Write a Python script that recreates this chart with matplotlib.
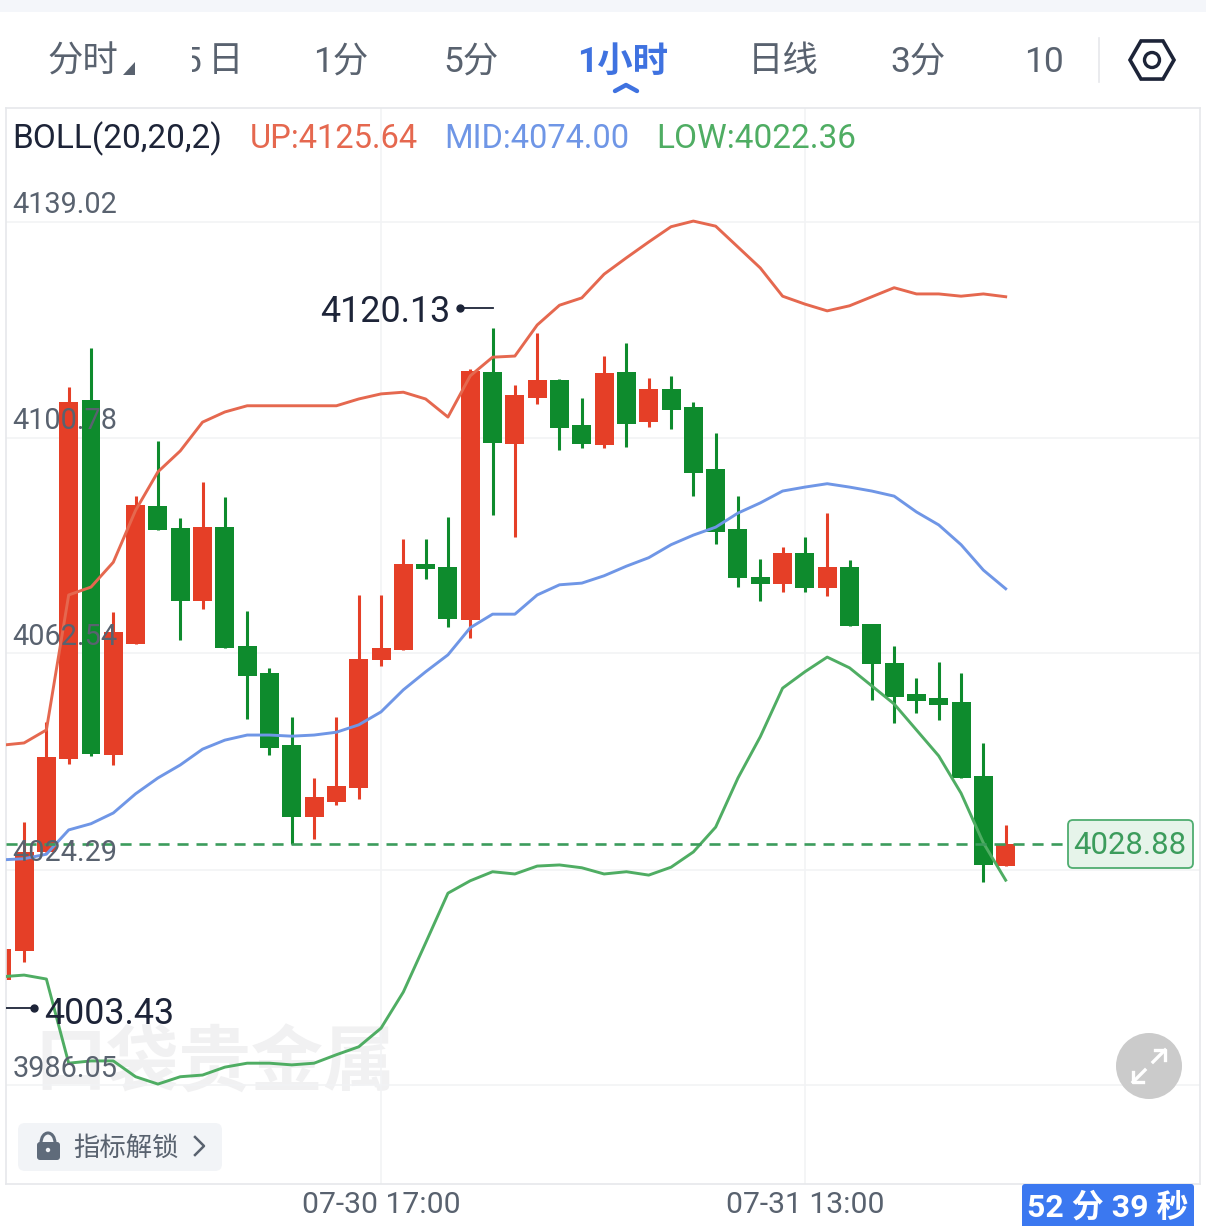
import matplotlib
matplotlib.use('Agg')
import matplotlib.pyplot as plt
import numpy as np
from matplotlib.patches import Rectangle, FancyBboxPatch, RegularPolygon, Circle, Polygon, Arc

plt.rcParams['font.family'] = ['Roboto', 'Noto Sans CJK SC', 'DejaVu Sans']

# 蜡烛数据
opens = [4004.73, 4009.87, 4027.39, 4043.86, 4107.42, 4044.57, 4064.22, 4088.65, 4084.76, 4071.83,
         4084.93, 4063.87, 4059.09, 4046.34, 4033.59, 4036.25, 4038.72, 4061.39, 4063.16, 4078.38,
         4077.85, 4068.47, 4112.38, 4099.63, 4107.77, 4110.96, 4102.99, 4099.45, 4112.38, 4103.52,
         4109.37, 4106.18, 4095.20, 4084.58, 4076.08, 4074.84, 4080.33, 4074.13, 4077.85, 4067.76,
         4060.86, 4055.37, 4054.66, 4053.95, 4040.85, 4024.91]
closes = [4010.22, 4027.39, 4044.21, 4107.07, 4044.74, 4066.34, 4088.83, 4084.40, 4071.83, 4084.93,
          4063.51, 4058.55, 4045.81, 4033.59, 4037.13, 4039.08, 4061.56, 4063.51, 4078.38, 4077.50,
          4068.65, 4112.55, 4099.81, 4108.31, 4110.96, 4102.46, 4099.63, 4112.20, 4103.17, 4109.37,
          4105.65, 4094.50, 4084.05, 4075.91, 4074.84, 4080.33, 4074.13, 4077.85, 4067.41, 4060.68,
          4054.84, 4054.13, 4053.42, 4040.50, 4025.09, 4028.88]
highs = [4010.22, 4032.70, 4050.41, 4109.72, 4116.63, 4069.89, 4090.42, 4100.16, 4086.53, 4092.90,
         4090.25, 4070.06, 4059.97, 4051.30, 4040.50, 4051.30, 4072.90, 4072.90, 4082.81, 4082.81,
         4086.71, 4112.91, 4120.13, 4110.08, 4119.28, 4111.14, 4107.77, 4115.21, 4117.51, 4111.32,
         4111.67, 4107.07, 4101.58, 4090.42, 4079.27, 4081.39, 4083.16, 4087.41, 4079.09, 4067.76,
         4063.87, 4058.20, 4061.03, 4059.09, 4046.69, 4032.17]
lows = [4003.43, 4007.92, 4027.39, 4042.97, 4044.39, 4042.80, 4064.22, 4084.40, 4064.93, 4070.42,
        4063.51, 4050.94, 4044.57, 4028.81, 4029.70, 4035.71, 4036.78, 4060.32, 4063.16, 4075.73,
        4067.23, 4065.28, 4087.06, 4083.16, 4106.71, 4098.57, 4098.92, 4098.92, 4099.10, 4102.64,
        4102.29, 4090.42, 4081.92, 4074.31, 4071.83, 4073.43, 4073.43, 4072.72, 4067.41, 4054.30,
        4050.23, 4052.00, 4050.76, 4040.50, 4022.08, 4024.91]

# BOLL 三条线
boll_up = [4046.3, 4046.7, 4049.0, 4072.9, 4074.3, 4078.7, 4087.9, 4094.7, 4098.4, 4103.5,
           4105.3, 4106.4, 4106.4, 4106.4, 4106.4, 4106.4, 4107.6, 4108.5, 4108.8, 4107.6,
           4104.4, 4111.7, 4115.0, 4115.2, 4120.7, 4124.2, 4125.5, 4129.7, 4132.6, 4135.4,
           4138.1, 4139.1, 4138.2, 4134.5, 4130.8, 4125.8, 4124.4, 4123.2, 4124.1, 4125.7,
           4127.3, 4126.2, 4126.2, 4125.8, 4126.2, 4125.7]
boll_mid = [4026.0, 4026.2, 4027.0, 4031.3, 4032.4, 4034.3, 4037.7, 4040.5, 4042.8, 4045.6,
            4047.2, 4048.1, 4048.1, 4047.9, 4048.1, 4048.6, 4049.9, 4052.2, 4056.1, 4059.3,
            4062.3, 4067.1, 4069.5, 4069.5, 4072.9, 4074.7, 4075.0, 4076.3, 4078.0, 4079.5,
            4081.8, 4083.5, 4084.9, 4087.4, 4089.2, 4091.3, 4092.0, 4092.6, 4092.0, 4091.3,
            4090.4, 4087.6, 4085.3, 4081.8, 4077.3, 4074.0]
boll_low = [4005.3, 4005.6, 4004.9, 3990.0, 3990.4, 3990.4, 3987.6, 3986.3, 3987.6, 3987.9,
            3989.3, 3990.0, 3990.0, 3989.7, 3990.0, 3991.5, 3992.9, 3996.2, 4002.6, 4011.3,
            4020.1, 4022.3, 4023.9, 4023.5, 4024.9, 4025.1, 4024.6, 4023.5, 4023.9, 4023.3,
            4024.7, 4027.4, 4031.8, 4040.5, 4047.8, 4056.4, 4059.3, 4061.9, 4060.0, 4056.8,
            4053.6, 4049.0, 4044.4, 4037.8, 4029.0, 4022.4]

y_ticks = [4139.02, 4100.78, 4062.54, 4024.29, 3986.05]
y_labels = ['4139.02', '4100.78', '4062.54', '4024.29', '3986.05']
x_ticks = [17, 36]
x_labels = ['07-30 17:00', '07-31 13:00']
last_price = 4028.88

tabs = [('分时', 47), ('5', 181), ('日', 208), ('1分', 313), ('5分', 443), ('日线', 748), ('3分', 890), ('10', 1024)]

RED = '#e53f27'
GREEN = '#0e8b2d'
C_UP = '#e5684f'
C_MID = '#6f96e6'
C_LOW = '#4fad63'
GREY = '#59626f'
DARK = '#1d2438'

fig = plt.figure(figsize=(12.06, 12.26), dpi=100)
W, H = 1206, 1226

# 主图，像素范围 x 6~1200, y 108~1184
ax = fig.add_axes([6 / W, 1 - 1184 / H, 1194 / W, 1076 / H])
ax.set_xlim(0.19, 53.71)
ax.set_ylim(3968.61, 4159.12)

# 界面层，用像素坐标
ui = fig.add_axes([0, 0, 1, 1], zorder=5)
ui.set_xlim(0, W)
ui.set_ylim(H, 0)
ui.axis('off')
ui.patch.set_alpha(0)

for s in ax.spines.values():
    s.set_color('#e6e8eb')
    s.set_linewidth(1.2)
ax.set_axisbelow(True)
ax.set_yticks(y_ticks)
ax.set_xticks(x_ticks)
ax.set_yticklabels([])
ax.set_xticklabels(x_labels, fontsize=21.7, color=GREY)
ax.tick_params(axis='both', length=0)
ax.tick_params(axis='x', pad=5)
ax.grid(True, color='#f2f3f5', linewidth=1.2)

ax.text(215, 1066, '口袋贵金属', transform=ui.transData, fontsize=52, fontweight='bold',
        color='#f1f1f2', ha='center', va='center', zorder=0.5, style='italic')

# 画蜡烛
idx = np.arange(len(opens))
o = np.array(opens)
c = np.array(closes)
colors = [RED if c[i] >= o[i] else GREEN for i in idx]
ax.vlines(idx, lows, highs, colors=colors, linewidth=2.2, zorder=2)
ax.bar(idx, np.abs(c - o), bottom=np.minimum(o, c), width=0.85, color=colors, zorder=2.5)

ax.plot(idx, boll_up, color=C_UP, lw=2.1, zorder=3)
ax.plot(idx, boll_mid, color=C_MID, lw=2.1, zorder=3)
ax.plot(idx, boll_low, color=C_LOW, lw=2.1, zorder=3)

# 现价虚线
ax.plot([0.19, 47.6], [last_price, last_price], color='#3c9c5c', lw=1.9,
        dashes=(4.2, 3.0), zorder=4)

# 最高最低标注
hi_i = int(np.argmax(highs))
hi_y = highs[hi_i] + 3.6
ax.plot([hi_i - 1.44, hi_i], [hi_y, hi_y], color=DARK, lw=1.3, zorder=4)
ax.plot([hi_i - 1.44], [hi_y], 'o', color=DARK, ms=5, zorder=4)
ax.text(hi_i - 1.9, hi_y - 0.65, '%.2f' % highs[hi_i], color=DARK, fontsize=25.8, ha='right',
        va='center', zorder=6)
lo_i = int(np.argmin(lows))
lo_y = lows[lo_i] - 3.6
ax.plot([lo_i, lo_i + 1.44], [lo_y, lo_y], color=DARK, lw=1.3, zorder=4)
ax.plot([lo_i + 1.44], [lo_y], 'o', color=DARK, ms=5, zorder=4)
ax.text(lo_i + 1.9, lo_y - 1.1, '%.2f' % lows[lo_i], color=DARK, fontsize=25.8, ha='left',
        va='center', zorder=6)

# y 轴标签写在图里
for t, lab in zip(y_ticks, y_labels):
    ax.annotate(lab, (0, t), xycoords=ax.get_yaxis_transform(), xytext=(4.5, 1.8),
                textcoords='offset points', fontsize=20.8, color=GREY, va='bottom', zorder=6)

# 顶部
ui.add_patch(Rectangle((0, 0), W, 12, color='#f4f6fa', lw=0))
for name, x in tabs:
    ui.text(x, 62, name, fontsize=25.5, color=GREY, ha='left', va='center')
# 5日 的 5 被滚动区挡住一半
ui.add_patch(Rectangle((140, 30), 52, 60, color='white', lw=0, zorder=3.5))
ui.text(577, 62, '1小时', fontsize=25.5, color='#3f72e0', fontweight='bold', ha='left', va='center')
ui.plot([615, 626, 637], [91, 85, 91], color='#3f72e0', lw=3.2, solid_capstyle='round')
ui.add_patch(Polygon([[123, 75], [135, 75], [135, 62]], color='#59626f', lw=0, zorder=4))
ui.plot([1099, 1099], [38, 82], color='#e6e8eb', lw=1.2)
ui.add_patch(RegularPolygon((1152, 60), 6, radius=22, orientation=np.pi / 6, fill=False,
                            ec=DARK, lw=2.6))
ui.add_patch(Circle((1152, 60), 7.5, fill=False, ec=DARK, lw=2.4))

# 图例
ui.text(12, 139, 'BOLL(20,20,2)', fontsize=24, color=DARK, va='center')
ui.text(250, 139, 'UP:4125.64', fontsize=23.5, color=C_UP, va='center')
ui.text(444, 139, 'MID:4074.00', fontsize=23.5, color=C_MID, va='center')
ui.text(656, 139, 'LOW:4022.36', fontsize=24, color=C_LOW, va='center')

# 现价框
ui.add_patch(FancyBboxPatch((1071, 823), 119, 42, boxstyle='round,pad=3,rounding_size=5',
                            fc='#e6f4ea', ec='#4fad70', lw=1.3))
ui.text(1130, 845, '%.2f' % last_price, fontsize=22.4, color='#3c9c5c', ha='center', va='center')

# 放大按钮
ui.add_patch(Circle((1149, 1066), 33, color='#cbcbcb', lw=0))
for x0, y0, x1, y1, ends in [(1153, 1062, 1165, 1050, [[1155, 1050], [1165, 1050], [1165, 1060]]),
                             (1145, 1070, 1133, 1082, [[1133, 1072], [1133, 1082], [1143, 1082]])]:
    ui.plot([x0, x1], [y0, y1], color='white', lw=2.4)
    e = np.array(ends)
    ui.plot(e[:, 0], e[:, 1], color='white', lw=2.4)

# 指标解锁按钮
ui.add_patch(FancyBboxPatch((24, 1129), 192, 36, boxstyle='round,pad=6,rounding_size=7',
                            fc='#f2f4f7', ec='none'))
ui.add_patch(FancyBboxPatch((39, 1144), 19, 14, boxstyle='round,pad=2,rounding_size=3',
                            fc='#5f6b7a', ec='none'))
ui.add_patch(Arc((48, 1143), 14, 20, theta1=180, theta2=360, color='#5f6b7a', lw=2.2))
ui.add_patch(Circle((48, 1150), 2.2, color='#f2f4f7', lw=0))
ui.text(73, 1149, '指标解锁', fontsize=19, color=GREY, va='center')
ui.plot([195, 204, 195], [1137, 1146, 1155], color=GREY, lw=1.8)

# 倒计时
ui.add_patch(FancyBboxPatch((1024, 1186), 168, 60, boxstyle='round,pad=2,rounding_size=3',
                            fc='#3b78f0', ec='none'))
ui.text(1108, 1207, '52 分 39 秒', fontsize=23, color='white', fontweight='bold',
        ha='center', va='center')

fig.savefig('out.png', dpi=100)
